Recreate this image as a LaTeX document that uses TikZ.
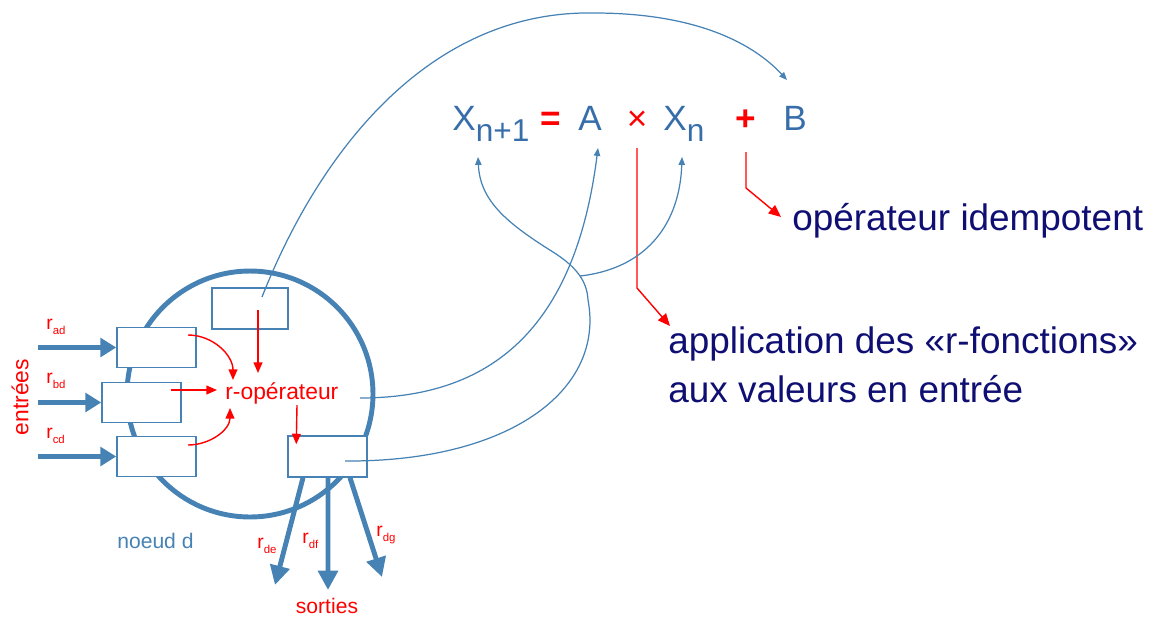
\documentclass[tikz,border=0pt]{standalone}
\usepackage{fontspec}
\setmainfont{Liberation Sans}
\usetikzlibrary{arrows.meta,positioning}

\definecolor{steel}{RGB}{70,130,180}
\definecolor{eqblue}{RGB}{55,110,170}
\definecolor{navytxt}{RGB}{15,15,115}

\newcommand{\rsub}[1]{r\raisebox{-3pt}{\fontsize{6.5}{6.5}\selectfont #1}}
\newcommand{\eqsub}[1]{\raisebox{-6.5pt}{\fontsize{18}{18}\selectfont #1}}

\begin{document}
\begin{tikzpicture}[x=0.02cm, y=-0.02cm,
    box/.style={draw=steel, line width=0.85pt, fill=white, inner sep=0pt,
        minimum width=1.58cm, minimum height=0.8cm},
    flow/.style={draw=steel, line width=2.8pt, -{Triangle[length=9pt,width=10.5pt]}},
    bigflow/.style={flow, -{Triangle[length=11pt,width=11pt]}},
    link/.style={draw=steel, line width=0.7pt, -{Triangle[length=4.5pt,width=3.6pt]}},
    rarrow/.style={draw=red, line width=0.8pt, -{Triangle[length=6pt,width=5pt]}},
    rtxt/.style={text=red, font=\fontsize{11}{11}\selectfont, inner sep=0pt},
    eq/.style={text=eqblue, font=\fontsize{20}{20}\selectfont, inner sep=0pt, anchor=base west},
    note/.style={text=navytxt, font=\fontsize{21}{21}\selectfont, inner sep=0pt, anchor=base west}]
    \useasboundingbox (0,0) rectangle (1158,619);

    % Node d and its buffers
    \node[draw=steel, line width=2.8pt, circle, minimum size=4.92cm, inner sep=0pt] (noeud) at (250,394) {};
    \node[box] (ba) at (156.5,347.5) {};
    \node[box] (bb) at (141.5,402.5) {};
    \node[box] (bc) at (156.5,456.5) {};
    \node[box, minimum width=1.52cm, minimum height=0.82cm] (bt) at (250,308.5) {};
    \node[box, minimum height=0.82cm] (bo) at (327.5,456.5) {};
    \node[rtxt, font=\fontsize{13}{13}\selectfont, anchor=base west] (rop) at (225,399) {r-opérateur};
    \node[text=steel, font=\fontsize{12}{12}\selectfont, inner sep=0pt, anchor=base west] (nd) at (117,548) {noeud d};

    % Inputs
    \coordinate (ia) at (38,347.5);
    \coordinate (ib) at (38,402.5);
    \coordinate (ic) at (38,456.5);
    \draw[flow] (ia) -- (ba.west);
    \draw[flow] (ib) -- (bb.west);
    \draw[flow] (ic) -- (bc.west);
    \node[rtxt, anchor=base west] (rad) at (46,329) {\rsub{ad}};
    \node[rtxt, anchor=base west] (rbd) at (46,383) {\rsub{bd}};
    \node[rtxt, anchor=base west] (rcd) at (46,438) {\rsub{cd}};
    \node[rtxt, font=\fontsize{13}{13}\selectfont, rotate=90] (entrees) at (20,397) {entrées};

    % Outputs
    \coordinate (de) at (275,585);
    \coordinate (df) at (328,590);
    \coordinate (dg) at (382,577);
    \draw[bigflow] ([shift={(-24.5,0)}]bo.south) -- (de);
    \draw[bigflow] ([shift={(0.5,0)}]bo.south) -- (df);
    \draw[bigflow] ([shift={(22.5,0)}]bo.south) -- (dg);
    \node[rtxt, anchor=base west] (rde) at (257,548) {\rsub{de}};
    \node[rtxt, anchor=base west] (rdf) at (302,543) {\rsub{df}};
    \node[rtxt, anchor=base west] (rdg) at (376,536) {\rsub{dg}};
    \node[rtxt, font=\fontsize{12}{12}\selectfont, anchor=base] (sorties) at (327,613) {sorties};

    % r-operator inside the node
    \draw[rarrow] ([shift={(31.5,-12.5)}]ba.center) to[out=0,in=90] ([shift={(8,-19)}]rop.base west);
    \draw[rarrow] ([shift={(29.5,-12.5)}]bb.center) -- ([shift={(-8,-9)}]rop.base west);
    \draw[rarrow] ([shift={(31.5,-11.5)}]bc.center) to[out=0,in=-90] ([shift={(5,9)}]rop.base west);
    \draw[rarrow] ([shift={(8,1.5)}]bt.center) -- ([shift={(33,-26)}]rop.base west);
    \draw[rarrow] ([shift={(72,6)}]rop.base west) -- ([shift={(9,9)}]bo.north west);

    % Equation
    \node[eq] (xn1) at (452,130) {X\eqsub{n+1}};
    \node[eq, text=red, anchor=base] (egal) at (551,130) {\bfseries =};
    \node[eq] (a) at (578,130) {A};
    \node[eq, text=red, anchor=base] (fois) at (637,130) {×};
    \node[eq] (xn) at (663,130) {X\eqsub{n}};
    \node[eq, text=red, anchor=base] (plus) at (746,130) {\bfseries +};
    \node[eq] (b) at (783,130) {B};

    % Notes
    \node[note] (idem) at (792,230) {opérateur idempotent};
    \node[note] (appli) at (668,353) {application des «r-fonctions»};
    \node[note] (appli2) at (668,402) {aux valeurs en entrée};
    \draw[rarrow, -{Triangle[length=7pt,width=6pt]}] ([shift={(0,22)}]plus.base) -- ++(0,36) -- ([shift={(-11,-13)}]idem.base west);
    \draw[rarrow, -{Triangle[length=7pt,width=6pt]}] ([shift={(0,18)}]fois.base) -- ++(0,140) -- ([shift={(2,-27)}]appli.base west);

    % Links from the node to the equation
    \draw[link] ([shift={(12,-11.5)}]bt.center) .. controls (320,150) and (430,10) .. (594,13)
        .. controls (690,13) and (750,40) .. ([shift={(4,-50)}]b.base west);
    \draw[link] ([shift={(135,-1)}]rop.base west) .. controls (490,398) and (575,330) .. ([shift={(20,18)}]a.base west);
    \draw[link] ([shift={(17.5,4.5)}]bo.center) .. controls (510,462) and (605,390) .. (588,300)
        .. controls (587,280) and (575,266) .. (553,252)
        .. controls (505,222) and (480,200) .. ([shift={(26,27)}]xn1.base west);
    \coordinate (fourche) at (580,276);
    \draw[link] (fourche) .. controls (650,268) and (680,220) .. ([shift={(19,27)}]xn.base west);
\end{tikzpicture}
\end{document}
